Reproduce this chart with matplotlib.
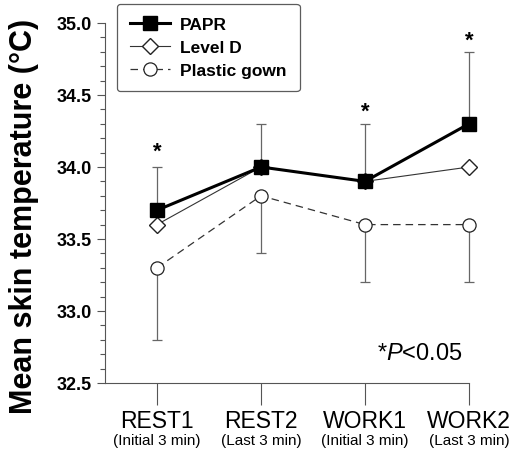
import matplotlib.pyplot as plt
from matplotlib.ticker import MultipleLocator
from matplotlib.transforms import blended_transform_factory

plt.rcParams['font.family'] = ['Liberation Sans', 'DejaVu Sans']
plt.rcParams['mathtext.fontset'] = 'custom'
plt.rcParams['mathtext.rm'] = 'Liberation Sans'
plt.rcParams['mathtext.it'] = 'Liberation Sans:italic'

phases = ['REST1', 'REST2', 'WORK1', 'WORK2']
phase_notes = ['(Initial 3 min)', '(Last 3 min)', '(Initial 3 min)', '(Last 3 min)']
papr = [33.7, 34.0, 33.9, 34.3]
papr_sd = [0.3, 0.3, 0.4, 0.5]
level_d = [33.6, 34.0, 33.9, 34.0]
gown = [33.3, 33.8, 33.6, 33.6]
gown_sd = [0.5, 0.4, 0.4, 0.4]
star_y = [34.11, None, 34.39, 34.88]

x = list(range(len(phases)))

fig = plt.figure(figsize=(5.13, 4.52), dpi=100)
ax = fig.add_axes([105 / 513, 68 / 452, 364 / 513, 360 / 452])

# one-sided error bars: PAPR up, plastic gown down
for vals, err in [(papr, [[0] * 4, papr_sd]), (gown, [gown_sd, [0] * 4])]:
    eb = ax.errorbar(x, vals, yerr=err, fmt='none', ecolor='#666666',
                     elinewidth=0.9, capsize=3.6, capthick=0.9, zorder=1)
    for art in eb.lines[1] + eb.lines[2]:
        art.set_clip_on(False)

ax.plot(x, gown, color='#333333', lw=0.9, dashes=(6, 4), marker='o', ms=9.5,
        mfc='white', mec='#222222', mew=0.9, label='Plastic gown', zorder=2, clip_on=False)
ax.plot(x, level_d, color='#333333', lw=0.8, marker='D', ms=8,
        mfc='white', mec='#222222', mew=1.0, label='Level D', zorder=3, clip_on=False)
ax.plot(x, papr, color='black', lw=2.2, marker='s', ms=10.5,
        mfc='black', mec='black', label='PAPR', zorder=4, clip_on=False)

for xi, sy in zip(x, star_y):
    if sy is not None:
        ax.text(xi, sy, '*', ha='center', va='center', fontsize=16, fontweight='bold')

fig.text(420 / 513, 1 - 354 / 452, r'*$\mathit{P}$<0.05', fontsize=17,
         ha='center', va='center')

ax.set_xlim(-0.5, 3.0)
ax.set_ylim(32.5, 35.0)
ax.yaxis.set_major_locator(MultipleLocator(0.5))
ax.yaxis.set_minor_locator(MultipleLocator(0.1))
ax.yaxis.set_major_formatter(plt.FormatStrFormatter('%.1f'))
ax.set_xticks(x)
ax.set_xticklabels(phases, fontsize=16.5)
ax.tick_params(axis='x', length=16, width=0.8, color='#555555', pad=3)
ax.tick_params(axis='y', which='major', length=6, width=0.8, color='#555555', labelsize=13)
ax.tick_params(axis='y', which='minor', length=3.5, width=0.8, color='#555555')
for lab in ax.get_yticklabels():
    lab.set_fontweight('bold')

trans = blended_transform_factory(ax.transData, fig.transFigure)
for xi, note in zip(x, phase_notes):
    ax.text(xi, 11 / 452, note, transform=trans, ha='center', va='center', fontsize=11)

ax.spines['top'].set_visible(False)
ax.spines['right'].set_visible(False)
for s in ['left', 'bottom']:
    ax.spines[s].set_color('#555555')
    ax.spines[s].set_linewidth(0.8)

ax.set_ylabel('Mean skin temperature (\u00b0C)', fontsize=22, fontweight='bold')
ax.yaxis.set_label_coords(-0.18, 0.465)

handles, labels = ax.get_legend_handles_labels()
leg = fig.legend(handles[::-1], labels[::-1], loc='upper left',
                 bbox_to_anchor=(117 / 513, 1 - 5 / 452), frameon=True, fancybox=True,
                 prop={'weight': 'bold', 'size': 12.5}, handlelength=2.3,
                 handletextpad=0.6, labelspacing=0.45, borderpad=0.75,
                 borderaxespad=0)
leg.get_frame().set_edgecolor('#333333')
leg.get_frame().set_linewidth(0.9)

fig.savefig('out.png', dpi=100)
